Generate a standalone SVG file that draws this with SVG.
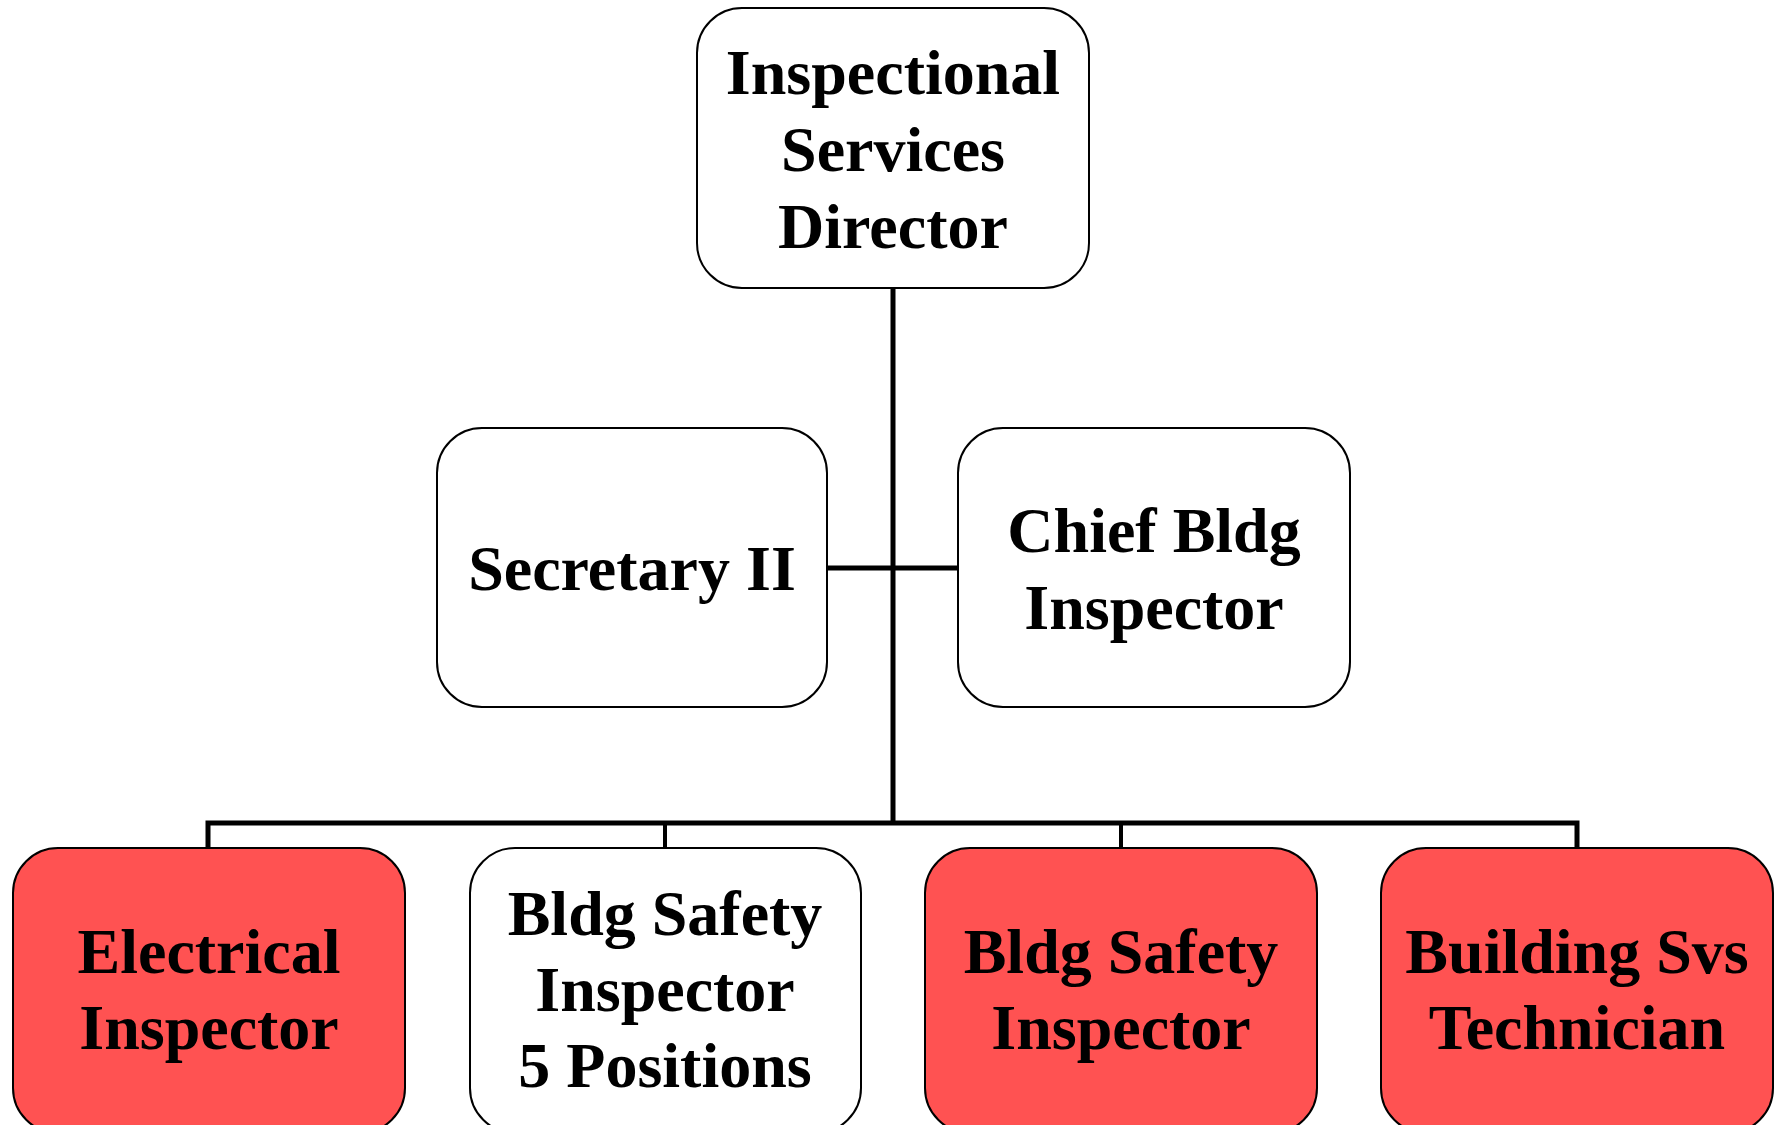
<svg xmlns="http://www.w3.org/2000/svg" width="1783" height="1125" viewBox="0 0 1783 1125">
<style>
.box{stroke:#000;stroke-width:2;fill:#fff}
.red{fill:#FF5252}
.t{font-family:"Liberation Serif","Times New Roman",serif;font-weight:bold;font-size:64px;text-anchor:middle;fill:#000}
.c{stroke:#000;fill:none}
</style>
<rect width="1783" height="1125" fill="#fff"/>
<g id="connectors">
<line class="c" x1="893" y1="288" x2="893" y2="825" stroke-width="5"/>
<line class="c" x1="827" y1="568" x2="958" y2="568" stroke-width="5"/>
<polyline class="c" points="208,848 208,823 1577,823 1577,848" stroke-width="5"/>
<line class="c" x1="665" y1="823" x2="665" y2="848" stroke-width="4"/>
<line class="c" x1="1121" y1="823" x2="1121" y2="848" stroke-width="4"/>
</g>
<g id="director">
<rect class="box" x="697" y="8" width="392" height="280" rx="45"/>
<text class="t" x="893" y="94">Inspectional</text>
<text class="t" x="893" y="171">Services</text>
<text class="t" x="893" y="248">Director</text>
</g>
<g id="secretary">
<rect class="box" x="437" y="428" width="390" height="279" rx="45"/>
<text class="t" x="632" y="590">Secretary II</text>
</g>
<g id="chief">
<rect class="box" x="958" y="428" width="392" height="279" rx="45"/>
<text class="t" x="1154" y="552">Chief Bldg</text>
<text class="t" x="1154" y="629">Inspector</text>
</g>
<g id="electrical">
<rect class="box red" x="13" y="848" width="392" height="285" rx="45"/>
<text class="t" x="209" y="973">Electrical</text>
<text class="t" x="209" y="1049">Inspector</text>
</g>
<g id="bldg-safety-5">
<rect class="box" x="470" y="848" width="391" height="285" rx="45"/>
<text class="t" x="665" y="935">Bldg Safety</text>
<text class="t" x="665" y="1011">Inspector</text>
<text class="t" x="665" y="1087">5 Positions</text>
</g>
<g id="bldg-safety">
<rect class="box red" x="925" y="848" width="392" height="285" rx="45"/>
<text class="t" x="1121" y="973">Bldg Safety</text>
<text class="t" x="1121" y="1049">Inspector</text>
</g>
<g id="building-svs">
<rect class="box red" x="1381" y="848" width="392" height="285" rx="45"/>
<text class="t" x="1577" y="973">Building Svs</text>
<text class="t" x="1577" y="1049">Technician</text>
</g>
</svg>
